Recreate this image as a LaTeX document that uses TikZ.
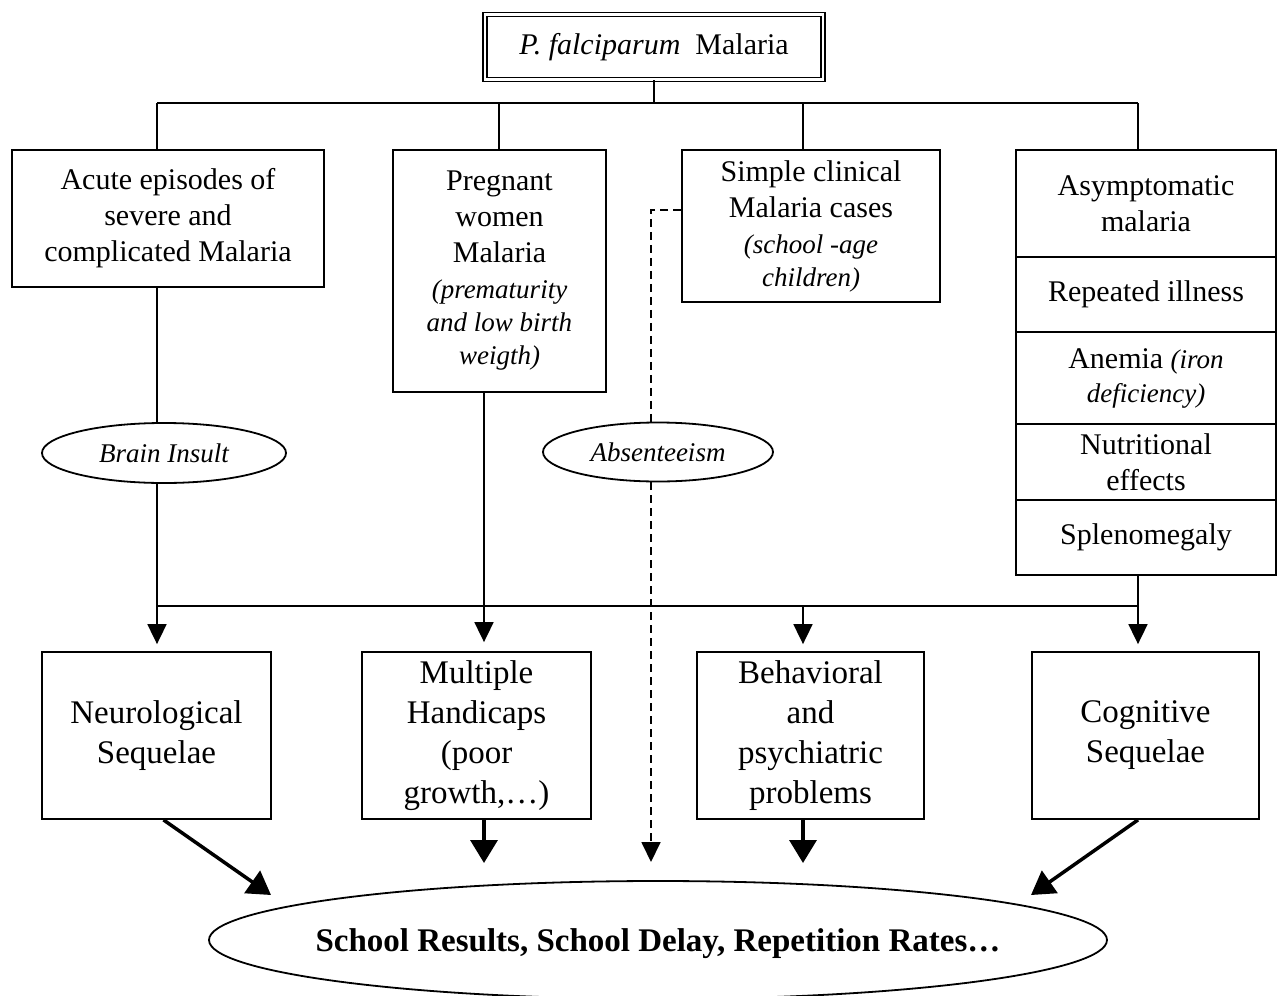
\documentclass[tikz,border=0pt]{standalone}
\usepackage{fontspec}
\setmainfont{Liberation Serif}
\usetikzlibrary{shapes.geometric,arrows.meta}
\newcommand\itsm[1]{{\fontsize{27}{33}\selectfont\itshape #1}}
\begin{document}
\begin{tikzpicture}[x=1pt,y=-1pt,
  box/.style={draw,line width=1.8pt,rectangle,inner sep=0pt,align=center,font=\fontsize{30}{36}\selectfont},
  bbox/.style={draw,line width=1.8pt,rectangle,inner sep=0pt,align=center,font=\fontsize{33}{40}\selectfont,minimum height=167pt},
  oval/.style={draw,ellipse,line width=1.8pt,fill=white,inner sep=0pt,font=\fontsize{27}{33}\selectfont\itshape},
  conn/.style={line width=1.8pt},
  arr/.style={conn,-{Triangle[width=19pt,length=20pt]}},
  thickarr/.style={line width=3.5pt,-{Triangle[width=27pt,length=23pt]}},
  dashline/.style={line width=1.8pt,dash pattern=on 8pt off 5pt},
]
\useasboundingbox (0,0) rectangle (1278,996);
\clip (0,0) rectangle (1278,996);

% top
\node[draw,double,double distance=2.2pt,line width=1.5pt,minimum width=338pt,minimum height=65pt,inner sep=0pt,font=\fontsize{30}{36}\selectfont] (top) at (654,47) {\textit{P. falciparum}~~Malaria};

% second row
\node[box,minimum width=312pt,minimum height=137pt] (b1) at (168,218.5) {Acute episodes of\\severe and\\complicated Malaria};
\node[box,minimum width=213pt,minimum height=242pt] (b2) at (499.5,271) {Pregnant\\women\\Malaria\\\itsm{(prematurity}\\[-3pt]\itsm{and low birth}\\[-3pt]\itsm{weigth)}};
\node[box,minimum width=258pt,minimum height=152pt] (b3) at (811,226) {Simple clinical\\Malaria cases\\\itsm{(school -age}\\[-3pt]\itsm{children)}};
\node[box,minimum width=260pt,minimum height=107pt] (a4) at (1146,203.5) {Asymptomatic\\malaria};
\node[box,minimum width=260pt,minimum height=75pt] (r4) at (1146,294.5) {Repeated illness};
\node[box,minimum width=260pt,minimum height=92pt] (an4) at (1146,378) {Anemia \itsm{(iron}\\[-2pt]\itsm{deficiency)}};
\node[box,minimum width=260pt,minimum height=76pt] (n4) at (1146,462) {Nutritional\\effects};
\node[box,minimum width=260pt,minimum height=75pt] (s4) at (1146,537.5) {Splenomegaly};

% ellipses
\node[oval,minimum width=244pt,minimum height=60pt] (brain) at (164,453) {Brain Insult};
\node[oval,minimum width=230pt,minimum height=59pt] (absent) at (658,452) {Absenteeism};

% bottom row
\node[bbox,minimum width=229pt] (neuro) at (156.5,735.5) {Neurological\\Sequelae};
\node[bbox,minimum width=229pt] (multi) at (476.5,735.5) {Multiple\\Handicaps\\(poor\\growth,…)};
\node[bbox,minimum width=227pt] (behav) at (810.5,735.5) {Behavioral\\and\\psychiatric\\problems};
\node[bbox,minimum width=227pt] (cogn) at (1145.5,735.5) {Cognitive\\Sequelae};

\node[draw,ellipse,line width=1.8pt,inner sep=0pt,minimum width=898pt,minimum height=118pt,font=\fontsize{33}{38}\selectfont\bfseries] (school) at (658,940) {\raisebox{-11pt}[0pt][0pt]{\makebox[0pt]{School Results, School Delay, Repetition Rates…}}};

% coordinates
\coordinate (t1) at (157,103);
\coordinate (t2) at (499,103);
\coordinate (t3) at (803,103);
\coordinate (t4) at (1138,103);
\coordinate (j1) at (157,606);
\coordinate (j4) at (1138,606);
\coordinate (m2) at (484,0);
\coordinate (d) at (651,210);
\coordinate (dend) at (651,862);
\coordinate (s1) at (271,895);
\coordinate (s4e) at (1031,895);
\coordinate (s2) at (484,863);
\coordinate (s3) at (803,863);

% top connectors
\draw[conn] (top.south) -- (top.south |- t1);
\draw[conn] (t1) -- (t4);
\draw[conn] (t1) -- (t1 |- b1.north);
\draw[conn] (t2) -- (t2 |- b2.north);
\draw[conn] (t3) -- (t3 |- b3.north);
\draw[conn] (t4) -- (t4 |- a4.north);

% middle connectors
\draw[conn] (t1 |- b1.south) -- (t1 |- brain.north);
\draw[conn] (t1 |- brain.south) -- (j1);
\draw[conn] (j1) -- (j4);
\draw[conn] (t4 |- s4.south) -- (j4);
\draw[arr,shorten >=7pt] (j1) -- (j1 |- neuro.north);
\draw[arr,shorten >=9pt] (b2.south -| m2) -- (multi.north -| m2);
\draw[arr,shorten >=7pt] (t3 |- j1) -- (t3 |- behav.north);
\draw[arr,shorten >=7pt] (j4) -- (j4 |- cogn.north);

% dashed
\draw[dashline] (b3.west |- d) -- (d) -- (d |- absent.north);
\draw[dashline,-{Triangle[width=19pt,length=20pt]}] (d |- absent.south) -- (dend);

% thick arrows
\draw[thickarr] ([xshift=7pt]neuro.south) -- (s1);
\draw[thickarr] (neuro.south -| m2) -- (s2);
\draw[thickarr] (behav.south -| t3) -- (s3);
\draw[thickarr] (cogn.south -| t4) -- (s4e);
\end{tikzpicture}
\end{document}
